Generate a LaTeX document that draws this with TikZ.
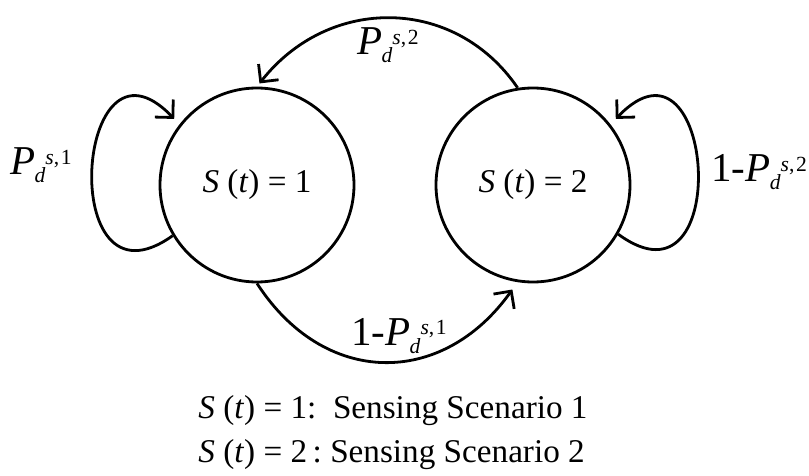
\documentclass[tikz,border=0pt]{standalone}
\usepackage{amsmath}
\usepackage{fontspec}
\setmainfont{Liberation Serif}
\usetikzlibrary{arrows.meta}

% P_d^{s,k} set by hand, with small script letters
\newcommand{\Pd}[1]{\textit{P}\kern-0.4pt\raisebox{-4pt}{\fontsize{10.8}{12}\selectfont\textit{d}}\raisebox{5.5pt}{\fontsize{10.8}{12}\selectfont\textit{s},\kern0.8pt#1}}

\begin{document}
\begin{tikzpicture}[
    x=0.5pt, y=-0.5pt,
    state/.style={circle, draw, line width=1.4pt, minimum size=97pt, inner sep=0pt, font=\fontsize{16.6}{19}\selectfont},
    edge/.style={line width=1.4pt, -{Straight Barb[angle=90:9pt]}},
    lab/.style={inner sep=0pt, anchor=base, font=\fontsize{20.5}{24}\selectfont},
    leg/.style={inner sep=0pt, anchor=base west, font=\fontsize{16.6}{19}\selectfont}
]
\useasboundingbox (0,0) rectangle (809,476);

\node[state] (s1) at (257,185) {\textit{S} (\textit{t}) = 1};
\node[state] (s2) at (533,185) {\textit{S} (\textit{t}) = 2};

% transitions between the two states
\draw[edge, shorten >=2pt] (s2.99) .. controls (455,-4) and (329,-5) .. (s1.90);
\draw[edge, shorten >=4.5pt] (s1.-90) .. controls (324,387) and (442,388) .. (s2.261);

% self loops
\draw[edge, shorten >=3.8pt] (s1.211) .. controls (55,320) and (75,15) .. (s1.142);
\draw[edge, shorten >=3.8pt] (s2.-30) .. controls (735,320) and (715,15) .. (s2.38);

\node[lab] (p12) at (388,55) {\Pd{2}};
\node[lab] (p11) at (41,175) {\Pd{1}};
\node[lab, anchor=base west] (q22) at (711,182) {1-\Pd{2}};
\node[lab] (q12) at (399,345) {1-\Pd{1}};

% legend
\node[leg] (leg1) at (198,418) {\textit{S} (\textit{t}) = 1:~~Sensing Scenario 1};
\node[leg] (leg2) at (198,462) {\textit{S} (\textit{t}) = 2\,:~Sensing Scenario 2};
\end{tikzpicture}
\end{document}
